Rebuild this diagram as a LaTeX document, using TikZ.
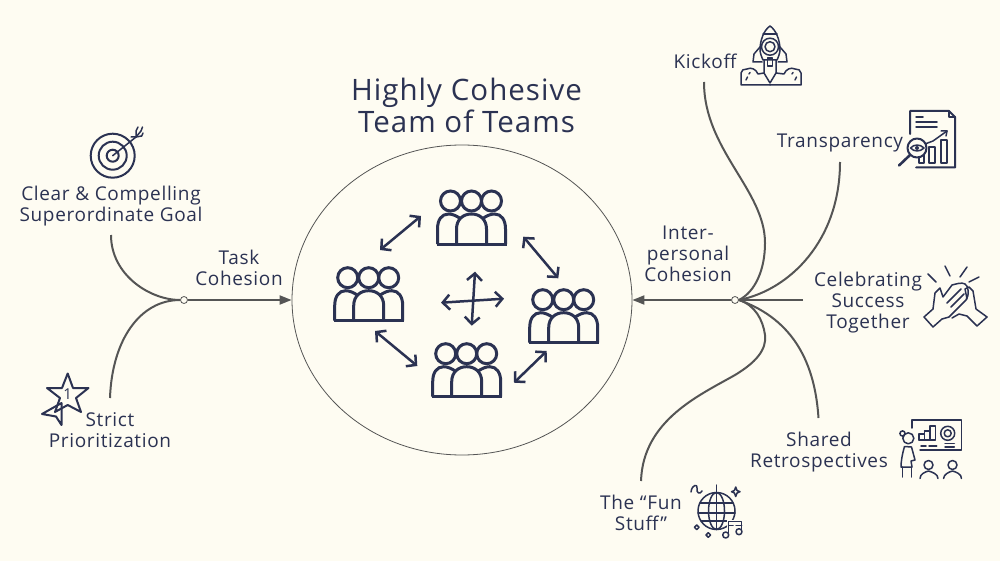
\documentclass[tikz,border=0pt]{standalone}
\usepackage{fontspec}
\setmainfont{Open Sans}[LetterSpace=3.5]
\usetikzlibrary{arrows.meta, shapes.geometric}
\definecolor{cream}{HTML}{FEFCF2}
\definecolor{navy}{HTML}{2B3252}
\definecolor{linegray}{HTML}{555555}
\tikzset{
	textlabel/.style = {text=navy, align=center, inner sep=0pt, font=\fontsize{19}{21}\selectfont},
	titlelabel/.style = {text=navy, align=center, inner sep=0pt, font=\fontsize{29.5}{32}\selectfont},
	hub/.style = {circle, draw=linegray, fill=cream, inner sep=0pt, minimum size=7pt, line width=0.8pt},
	branch/.style = {draw=linegray, line width=2pt},
	iconline/.style = {draw=navy, line width=1.5pt, line join=round, line cap=round},
	iconbold/.style = {draw=navy, line width=2pt, line join=round, line cap=round},
	teamline/.style = {draw=navy, line width=3pt},
	teamarrow/.style = {draw=navy, line width=2.5pt, {Straight Barb[length=7pt,width=15pt]}-{Straight Barb[length=7pt,width=15pt]}},
	team/.pic = {
		\draw [teamline] (-21,-43) circle [radius=10];
		\draw [teamline] (0,-43) circle [radius=10];
		\draw [teamline] (20,-43) circle [radius=10];
		\draw [teamline] (-35,0) -- (35,0);
		\draw [teamline] (-15,0) -- (-15,-15) .. controls (-15,-25) and (-8,-30) .. (0,-30) .. controls (8,-30) and (15,-25) .. (15,-15) -- (15,0);
		\draw [teamline] (-34,0) -- (-34,-15) .. controls (-34,-24) and (-30,-30) .. (-23,-30) .. controls (-19,-30) and (-15,-28) .. (-12,-26);
		\draw [teamline] (34,0) -- (34,-15) .. controls (34,-24) and (30,-30) .. (23,-30) .. controls (19,-30) and (15,-28) .. (12,-26);
	}
}
\begin{document}
\begin{tikzpicture}[x=1pt, y=-1pt]
		\useasboundingbox (0,0) rectangle (1000,561);
		\fill [cream] (0,0) rectangle (1000,561);
		\node [titlelabel] (title) at (466.5,105) {Highly Cohesive\\Team of Teams};
		\node [draw=linegray, ellipse, line width=0.8pt, minimum width=340pt, minimum height=310pt, inner sep=0pt] (cohesion) at (462,300) {};
		\pic (teamtop) at (471.5,244) {team};
		\pic (teamleft) at (368.7,320.7) {team};
		\pic (teamright) at (563.7,342.7) {team};
		\pic (teambottom) at (466.7,396.7) {team};
		\coordinate (topleftA) at (380,250);
		\coordinate (topleftB) at (421,216);
		\coordinate (toprightA) at (523.3,236.7);
		\coordinate (toprightB) at (558.3,278.3);
		\coordinate (lowleftA) at (375,331);
		\coordinate (lowleftB) at (417.3,366);
		\coordinate (lowrightA) at (514,382.7);
		\coordinate (lowrightB) at (546.7,351);
		\coordinate (crossW) at (441,302.7);
		\coordinate (crossE) at (504,298.7);
		\coordinate (crossN) at (475,271.7);
		\coordinate (crossS) at (471.7,325.7);
		\draw [teamarrow] (topleftA) -- (topleftB);
		\draw [teamarrow] (toprightA) -- (toprightB);
		\draw [teamarrow] (lowleftA) -- (lowleftB);
		\draw [teamarrow] (lowrightA) -- (lowrightB);
		\draw [teamarrow] (crossW) -- (crossE);
		\draw [teamarrow] (crossN) -- (crossS);
		\node [textlabel] (goal) at (111,206.5) {Clear \& Compelling\\Superordinate Goal};
		\node [textlabel] (task) at (239,267.5) {Task\\Cohesion};
		\node [textlabel] (strict) at (110,430) {Strict\\Prioritization};
		\node [textlabel] (kickoff) at (705,61) {Kickoff};
		\node [textlabel] (transparency) at (840,143) {Transparency};
		\node [textlabel] (inter) at (688,254) {Inter-\\personal\\Cohesion};
		\node [textlabel] (celebrate) at (868,303) {Celebrating\\Success\\Together};
		\node [textlabel] (retro) at (819,452.5) {Shared\\Retrospectives};
		\node [textlabel] (fun) at (641,512.5) {The “Fun\\Stuff”};
		\node [hub] (taskhub) at (184,300) {};
		\node [hub] (interhub) at (735,300) {};
		\coordinate (goalend) at (111,235);
		\coordinate (strictend) at (110,398);
		\coordinate (kickoffend) at (704,82);
		\coordinate (transparencyend) at (840,162);
		\coordinate (celebrateend) at (803,300);
		\coordinate (retroend) at (818.5,418);
		\coordinate (funend) at (641,481);
		\draw [branch] (goalend) .. controls (111,275) and (150,300) .. (taskhub.west);
		\draw [branch] (strictend) .. controls (112,340) and (140,300) .. (taskhub.west);
		\draw [branch, -{Triangle[length=12pt,width=9pt]}] (taskhub.east) -- (cohesion.west);
		\draw [branch, -{Triangle[length=12pt,width=9pt]}] (interhub.west) -- (cohesion.east);
		\draw [branch] (kickoffend) .. controls (704,150) and (765,190) .. (765,243) .. controls (765,270) and (755,292) .. (interhub.east);
		\draw [branch] (transparencyend) .. controls (840,240) and (790,290) .. (interhub.east);
		\draw [branch] (celebrateend) -- (interhub.east);
		\draw [branch] (retroend) .. controls (815,365) and (795,320) .. (interhub.east);
		\draw [branch] (funend) .. controls (643,420) and (700,395) .. (735,375) .. controls (755,363) and (767,350) .. (765,335) .. controls (763,320) and (755,305) .. (interhub.east);
		\draw [iconbold] (112.7,155.7) circle [radius=22];
		\draw [iconbold] (112.7,155.7) circle [radius=14];
		\draw [iconbold] (112.7,155.7) circle [radius=6];
		\draw [iconline] (112.7,155.7) -- (136,137);
		\draw [iconline] (131,137) -- (136,137) -- (136,131) -- (138,127);
		\draw [iconline] (136,137) -- (141.7,136) -- (143,133);
		\draw [iconline] (136,137) -- (141,131) -- (142.5,127);
		\draw [iconbold] (67.7,373.5) -- (73,388) -- (88.5,388) -- (76,398) -- (81,412) -- (67.7,405) -- (55,412) -- (60,398) -- (47,388) -- (62,388) -- cycle;
		\draw [iconbold] (61.5,403) -- (42,414) -- (56,416.5) -- (61.5,425) -- cycle;
		\node [text=navy, inner sep=0pt, font=\fontsize{15}{15}\selectfont] (starnum) at (67.7,394.5) {1};
		\draw [iconline] (770,26) .. controls (764,30) and (760,40) .. (760,50) .. controls (760,53) and (762,58) .. (763,60) -- (777,60) .. controls (778,58) and (780,53) .. (780,50) .. controls (780,40) and (776,30) .. (770,26);
		\draw [iconline] (763,34) -- (777,34);
		\draw [iconline] (770,46.7) circle [radius=8.5];
		\draw [iconline] (770,46.7) circle [radius=5];
		\draw [iconline] (760,47) -- (754,54) -- (753,62) -- (762,62);
		\draw [iconline] (780,47) -- (786,54) -- (787,62) -- (778,62);
		\draw [iconline] (767.5,58) rectangle (772.5,66);
		\draw [iconline] (764,60) -- (764,73) -- (770,83) -- (776,73) -- (776,60);
		\draw [iconline] (770,85) -- (741,85) -- (741,73) .. controls (741,70) and (744,69) .. (747,69) .. controls (751,67) and (756,69) .. (758,74) -- (764,73);
		\draw [iconline] (770,85) -- (801,85) -- (801,73) .. controls (801,70) and (798,69) .. (795,69) .. controls (791,67) and (786,69) .. (784,74) -- (776,73);
		\draw [iconline] (746,80) -- (747.5,77);
		\draw [iconline] (749,74) -- (750,72.5);
		\draw [iconline] (795,80) -- (796.5,77);
		\draw [iconline] (792,74) -- (793,72.5);
		\draw [iconbold] (910,134) -- (910,111) -- (949,111) -- (955,117) -- (955,167.5) -- (916,167.5);
		\draw [iconline] (949,111) -- (949,117) -- (955,117);
		\draw [iconline] (916,117) -- (923,117);
		\draw [iconline] (916,122) -- (937,122);
		\draw [iconline] (916,127) -- (937,127);
		\draw [iconline] (925,144) -- (933,141) -- (947,131);
		\draw [iconline] (941,131) -- (947,131) -- (946,136);
		\draw [iconbold] (919,153) rectangle (923.5,163);
		\draw [iconbold] (929,147) rectangle (935,163);
		\draw [iconbold] (941,140) rectangle (947,163);
		\draw [iconbold, fill=cream] (917,148) circle [radius=9.5];
		\draw [iconbold, line width=2.6pt] (910,155) -- (899,165.5);
		\draw [iconline] (910.5,148) .. controls (914,144) and (920,144) .. (924,148) .. controls (920,152) and (914,152) .. (910.5,148);
		\fill [navy] (917,148) circle [radius=2];
		\draw [iconline] (928,274) -- (936,282);
		\draw [iconline] (945,266) -- (950,276);
		\draw [iconline] (967,267) -- (960,277);
		\draw [iconline] (979,277) -- (969,282);
		\draw [iconline] (924,317) -- (933,327) -- (942,319) -- (949,317) -- (966,300) .. controls (970,295) and (968,285) .. (965,284) .. controls (962,282) and (956,284) .. (952,285) -- (943,297) -- (940,288) -- (935,293) -- (933,309) -- cycle;
		\draw [iconline] (947,303) -- (961,289);
		\draw [iconline] (951,307) -- (964,294);
		\draw [iconline] (952,318) -- (959,314) -- (967,316) -- (977,326) -- (987,317) -- (976,309) -- (973,291) -- (969,287) -- (965,289) -- (967,299);
		\draw [iconline] (912,428) -- (912,420) -- (961.7,420) -- (961.7,450) -- (920,450);
		\draw [iconline] (919,440) -- (919,434) -- (924.5,434) -- (924.5,440);
		\draw [iconline] (924.5,431) -- (930,431) -- (930,440);
		\draw [iconline] (930,426) -- (935.7,426) -- (935.7,440) -- (919,440);
		\draw [iconline] (924.5,434) -- (924.5,431);
		\draw [iconline] (930,431) -- (930,426);
		\draw [iconline] (921,446) -- (926,446);
		\draw [iconline] (929,446) -- (936.7,446);
		\draw [iconline] (947.7,433.3) circle [radius=7];
		\draw [iconline] (947.7,433.3) circle [radius=3.5];
		\draw [iconline] (945,443.5) -- (954.3,443.5);
		\draw [iconline] (945,446.8) -- (954.3,446.8);
		\draw [iconline] (908.3,438.3) circle [radius=5.5];
		\draw [iconline] (902.5,433.5) circle [radius=2.6];
		\draw [iconline] (904.5,446.5) .. controls (902,455) and (901,462) .. (901,467) -- (912,467) -- (911,461) -- (915,460) -- (911.5,447) -- (904.5,446.5);
		\draw [iconline] (902.5,467) -- (902.5,477);
		\draw [iconline] (911.5,467) -- (911.5,477);
		\draw [iconline] (928.5,465) circle [radius=4.5];
		\draw [iconline] (952.5,465) circle [radius=4.5];
		\draw [iconline] (920,478.5) .. controls (920,474) and (925,472) .. (928.5,471) .. controls (932,472) and (938,474) .. (938,478.5);
		\draw [iconline] (943.5,478.5) .. controls (944,474) and (949,472) .. (952.5,471) .. controls (956,472) and (961.5,474) .. (961.5,478.5);
		\draw [iconline] (716.5,511) circle [radius=18.5];
		\draw [iconline] (716.5,511) ellipse [x radius=8, y radius=18.5];
		\draw [iconline] (716.5,492.5) -- (716.5,529.5);
		\draw [iconline] (700,503) -- (733,503);
		\draw [iconline] (698,513) -- (735,513);
		\draw [iconline] (701,521) -- (732,521);
		\draw [iconline] (716.5,485) -- (716.5,492.5);
		\draw [iconline] (691,492) .. controls (692,484) and (698,484) .. (697,488) .. controls (696,493) and (700,495) .. (702,491);
		\draw [iconline] (735.7,487) -- (737,490.5) -- (740,491.7) -- (737,493) -- (735.7,496.5) -- (734.4,493) -- (731.5,491.7) -- (734.4,490.5) -- cycle;
		\draw [iconline] (696.7,525) -- (699,527.3) -- (696.7,529.6) -- (694.4,527.3) -- cycle;
		\draw [iconline] (708.3,532.7) -- (710.6,535) -- (708.3,537.3) -- (706,535) -- cycle;
		\fill [cream] (727,520) rectangle (743,538);
		\draw [iconline] (728.5,535) -- (728.5,521.7) -- (741.7,521.7) -- (741.7,531.7);
		\draw [iconline] (728.5,525.5) -- (733,525.5);
		\draw [iconline] (736,525.5) -- (741.7,525.5);
		\draw [iconline] (725.7,535) circle [radius=3];
		\draw [iconline] (739,531.7) circle [radius=3];
\end{tikzpicture}
\end{document}
